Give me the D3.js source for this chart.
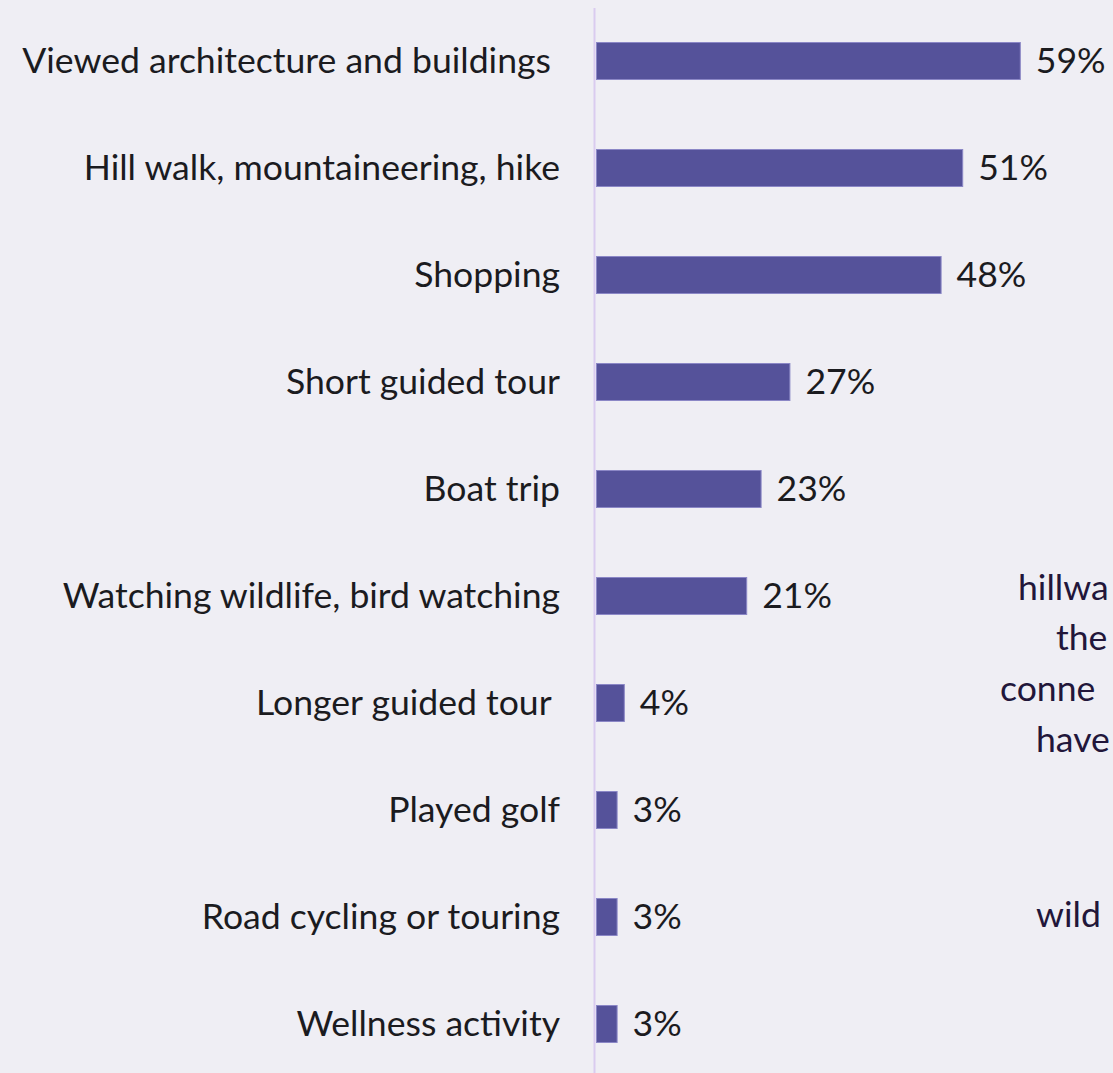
<!DOCTYPE html>
<html>
<head>
<meta charset="utf-8">
<script src="https://cdn.jsdelivr.net/npm/d3@7"></script>
<style>
  html, body { margin: 0; padding: 0; background: #efeef4; overflow: hidden; }
  svg { display: block; }
  text { font-family: Lato, "Noto Sans", sans-serif; white-space: pre; }
</style>
</head>
<body>
<svg id="chart" width="1113" height="1073"></svg>
<script>
// Share of visitors taking part in each activity (%)
const categories = [
  "Viewed architecture and buildings ",
  "Hill walk, mountaineering, hike",
  "Shopping",
  "Short guided tour",
  "Boat trip",
  "Watching wildlife, bird watching",
  "Longer guided tour ",
  "Played golf",
  "Road cycling or touring",
  "Wellness activity"
];
const values = [59, 51, 48, 27, 23, 21, 4, 3, 3, 3];
const valueLabels = ["59%", "51%", "48%", "27%", "23%", "21%", "4%", "3%", "3%", "3%"];

// Side commentary, only its left edge falls inside the frame
const noteLines = ["hillwa", "the", "conne", "have", "wild"];

const W = 1113, H = 1073;
const svg = d3.select("#chart");

const x0 = 596;
const x = d3.scaleLinear().domain([0, 100]).range([x0, x0 + 720]);

const step = 107, inner = 1 - 38 / 107;
const y = d3.scaleBand()
  .domain(categories)
  .range([42, 42 + step * (categories.length - inner)])
  .paddingInner(inner)
  .paddingOuter(0);

// vertical baseline axis
svg.append("line")
  .attr("x1", 594.5).attr("x2", 594.5)
  .attr("y1", 8).attr("y2", H)
  .attr("stroke", "#dacbef").attr("stroke-width", 2);

const rows = categories.map((c, i) => ({ c, v: values[i], lab: valueLabels[i] }));

svg.selectAll("rect.bar").data(rows).join("rect")
  .attr("class", "bar")
  .attr("x", x(0) + 0.5)
  .attr("y", d => y(d.c) + 0.5)
  .attr("width", d => x(d.v) - x(0) - 1)
  .attr("height", y.bandwidth() - 1)
  .attr("fill", "#55529a")
  .attr("stroke", "#8b87c6")
  .attr("stroke-width", 1);

svg.selectAll("text.cat").data(rows).join("text")
  .attr("class", "cat")
  .attr("x", 560)
  .attr("y", d => y(d.c) + y.bandwidth() / 2)
  .attr("dy", "0.35em")
  .attr("text-anchor", "end")
  .attr("font-size", 35.6)
  .attr("fill", "#1b1b1f")
  .text(d => d.c);

svg.selectAll("text.val").data(rows).join("text")
  .attr("class", "val")
  .attr("x", d => x(d.v) + 15)
  .attr("y", d => y(d.c) + y.bandwidth() / 2)
  .attr("dy", "0.35em")
  .attr("font-size", 35.6)
  .attr("fill", "#1b1b1f")
  .text(d => d.lab);

// commentary block at the right edge
const noteX = [1018, 1056, 1000, 1036, 1036];
const noteY = [600, 650, 701, 752, 927];
svg.selectAll("text.note").data(noteLines).join("text")
  .attr("class", "note")
  .attr("x", (d, i) => noteX[i])
  .attr("y", (d, i) => noteY[i])
  .attr("font-size", 35.6)
  .attr("fill", "#22163a")
  .text(d => d);
</script>
</body>
</html>
